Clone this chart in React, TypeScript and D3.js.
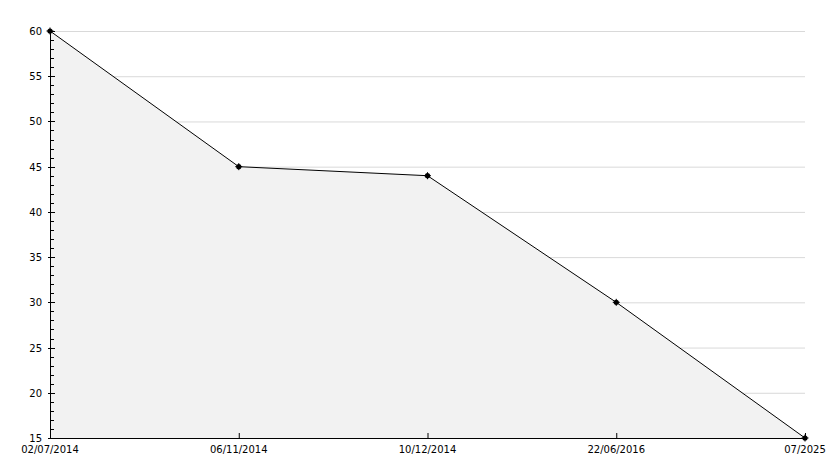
import React from "react";
import * as d3 from "d3";

const categories = ["02/07/2014", "06/11/2014", "10/12/2014", "22/06/2016", "07/2025"];
const values = [60, 45, 44, 30, 15];
const yTicks = [15, 20, 25, 30, 35, 40, 45, 50, 55, 60];
const yMinorTicks = d3.range(15, 61, 1);

const W = 834;
const H = 468;
const left = 50;
const right = 805;
const top = 31;
const bottom = 438;

export default function App() {
  const x = d3.scalePoint<string>().domain(categories).range([left, right]);
  const y = d3.scaleLinear().domain([15, 60]).range([bottom, top]);
  const pts = categories.map((c, i) => [x(c)!, y(values[i])] as [number, number]);
  const line = d3.line()(pts)!;
  const area = d3
    .area<[number, number]>()
    .x((d) => d[0])
    .y0(y(15))
    .y1((d) => d[1])(pts)!;
  const font = "DejaVu Sans, sans-serif";
  return (
    <svg
      width={W}
      height={H}
      style={{ position: "absolute", left: 0, top: 0, background: "#fff" }}
      fontFamily={font}
      fontSize={10}
    >
      {yTicks.slice(1).map((t) => (
        <line key={"g" + t} x1={left} x2={right} y1={y(t) + 0.5} y2={y(t) + 0.5} stroke="#d9d9d9" />
      ))}
      <path d={area} fill="#f2f2f2" />
      <path d={line} fill="none" stroke="#000" strokeWidth={1} />
      {yMinorTicks.map((t) => (
        <line key={"m" + t} x1={left} x2={left + 4} y1={Math.round(y(t)) + 0.5} y2={Math.round(y(t)) + 0.5} stroke="#000" />
      ))}
      {yTicks.map((t) => (
        <g key={"t" + t}>
          <line x1={left - 2} x2={left + 5} y1={Math.round(y(t)) + 0.5} y2={Math.round(y(t)) + 0.5} stroke="#000" />
          <text x={left - 8} y={y(t) + 4} textAnchor="end" fill="#000">
            {t}
          </text>
        </g>
      ))}
      <line x1={left + 0.5} x2={left + 0.5} y1={top} y2={bottom} stroke="#000" />
      <line x1={left} x2={right + 2} y1={bottom + 0.5} y2={bottom + 0.5} stroke="#000" />
      {categories.map((c) => (
        <g key={"x" + c}>
          <line x1={x(c)! + 0.5} x2={x(c)! + 0.5} y1={bottom - 5} y2={bottom} stroke="#000" />
          <text x={x(c)!} y={bottom + 15} textAnchor="middle" fill="#000">
            {c}
          </text>
        </g>
      ))}
      {pts.map((p, i) => (
        <g key={"p" + i}>
          <circle cx={p[0]} cy={p[1]} r={2.6} fill="#000" />
          <path d={`M${p[0] - 3.5},${p[1]}H${p[0] + 3.5}M${p[0]},${p[1] - 3.5}V${p[1] + 3.5}`} stroke="#000" />
        </g>
      ))}
    </svg>
  );
}
